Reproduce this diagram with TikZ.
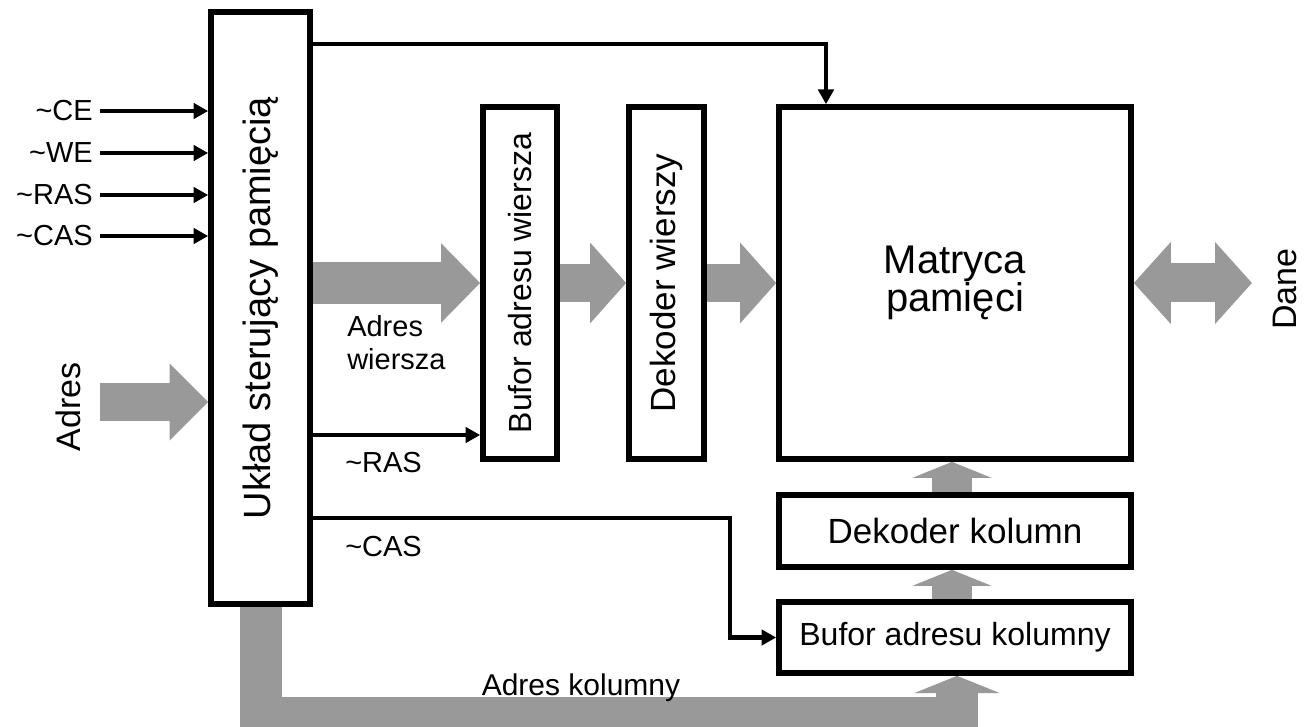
\documentclass[tikz,border=0pt]{standalone}
\usepackage{fontspec}
\setmainfont{Liberation Sans}
\usetikzlibrary{arrows.meta}
\definecolor{arrgray}{RGB}{153,153,153}
\begin{document}
\begin{tikzpicture}[x=0.75pt,y=-0.75pt,
  box/.style={draw=black, line width=4.25pt, fill=white, inner sep=0pt, align=center},
  sig/.style={draw=black, line width=3.3pt, line join=miter, -{Triangle[width=11.5pt,length=11pt]}},
  fatR/.style={draw=arrgray, line width=28.5pt, -{Triangle[width=59pt,length=27pt]}},
  fatU/.style={draw=arrgray, line width=30pt, line join=miter, -{Triangle[width=59pt,length=12pt]}},
  lbl/.style={inner sep=0pt, font=\fontsize{21.75pt}{24.75pt}\selectfont}
]
\useasboundingbox (0,0) rectangle (1304,727);
\clip (0,0) rectangle (1304,727);

% boxes
\node[box, minimum width=74.25pt, minimum height=444pt, font=\fontsize{28.5pt}{30pt}\selectfont] (ctrl) at (260.5,308)
  {\rotatebox{90}{Układ sterujący pamięcią}};
\node[box, minimum width=55.5pt, minimum height=264pt, font=\fontsize{24pt}{26pt}\selectfont] (bufw) at (520,283)
  {\rotatebox{90}{Bufor adresu wiersza}};
\node[box, minimum width=56.25pt, minimum height=264pt, font=\fontsize{26.25pt}{28pt}\selectfont] (dekw) at (666.5,283)
  {\rotatebox{90}{Dekoder wierszy}};
\node[box, minimum width=264pt, minimum height=264pt, font=\fontsize{30pt}{28.5pt}\selectfont] (mat) at (955,283)
  {Matryca\\pamięci};
\node[box, minimum width=264pt, minimum height=54pt, font=\fontsize{26.25pt}{28pt}\selectfont] (dekk) at (955,531)
  {Dekoder kolumn};
\node[box, minimum width=264pt, minimum height=53.25pt, font=\fontsize{24pt}{26pt}\selectfont] (bufk) at (955,637.5)
  {Bufor adresu kolumny};

% gray bus arrows
\draw[draw=arrgray, line width=31.5pt, -{Triangle[width=57.75pt,length=29.25pt]}]
  (ctrl.east |- bufw.west) -- (bufw.west);
\draw[fatR] (bufw) -- (dekw);
\draw[fatR] (dekw) -- (mat);
\coordinate (daneEnd) at (1252,283);
\draw[draw=arrgray, line width=29.25pt, {Triangle[width=60pt,length=27.75pt]}-{Triangle[width=60pt,length=27.75pt]}]
  (mat.east) -- (daneEnd);
\coordinate (adrStart) at (100,402);
\draw[draw=arrgray, line width=29pt, -{Triangle[width=56pt,length=29pt]}]
  (adrStart) -- (adrStart -| ctrl.west);
\coordinate (upx) at (952,0);
\draw[fatU] (upx |- dekk.north) -- (upx |- mat.south);
\draw[fatU] (upx |- bufk.north) -- (upx |- dekk.south);
\coordinate (bl) at (261,718);
\coordinate (br) at (957,718);
\draw[draw=arrgray, line width=31.5pt, line join=miter, -{Triangle[width=64pt,length=13pt]}]
  (bl |- ctrl.south) -- (bl) -- (br) -- (br |- bufk.south);

% control signals
\coordinate (ce) at (100,111);
\coordinate (we) at (100,153);
\coordinate (ras) at (100,195);
\coordinate (cas) at (100,236);
\draw[sig] (ce) -- (ce -| ctrl.west);
\draw[sig] (we) -- (we -| ctrl.west);
\draw[sig] (ras) -- (ras -| ctrl.west);
\draw[sig] (cas) -- (cas -| ctrl.west);
\node[lbl, anchor=east] (lce) at (93,111) {\textasciitilde CE};
\node[lbl, anchor=east] (lwe) at (93,153) {\textasciitilde WE};
\node[lbl, anchor=east] (lras) at (93,195) {\textasciitilde RAS};
\node[lbl, anchor=east] (lcas) at (93,236) {\textasciitilde CAS};

\coordinate (tk) at (826,44);
\draw[sig] (tk -| ctrl.east) -- (tk) -- (tk |- mat.north);
\coordinate (rk) at (0,435);
\draw[sig] (rk -| ctrl.east) -- (rk -| bufw.west);
\coordinate (ck) at (730,518);
\draw[sig] (ck -| ctrl.east) -- (ck) -- (ck |- bufk.west) -- (bufk.west);

% labels
\node[lbl, anchor=west, align=left] (law) at (347,343) {Adres\\wiersza};
\node[lbl, anchor=west] (lr2) at (345,463) {\textasciitilde RAS};
\node[lbl, anchor=west] (lc2) at (345,547) {\textasciitilde CAS};
\node[lbl, font=\fontsize{22.5pt}{24pt}\selectfont] (lak) at (581,688) {Adres kolumny};
\node[inner sep=0pt, rotate=90, font=\fontsize{25.5pt}{27pt}\selectfont] (ladr) at (68,407) {Adres};
\node[inner sep=0pt, rotate=90, font=\fontsize{25.5pt}{27pt}\selectfont] (ldane) at (1285,289) {Dane};
\end{tikzpicture}
\end{document}
